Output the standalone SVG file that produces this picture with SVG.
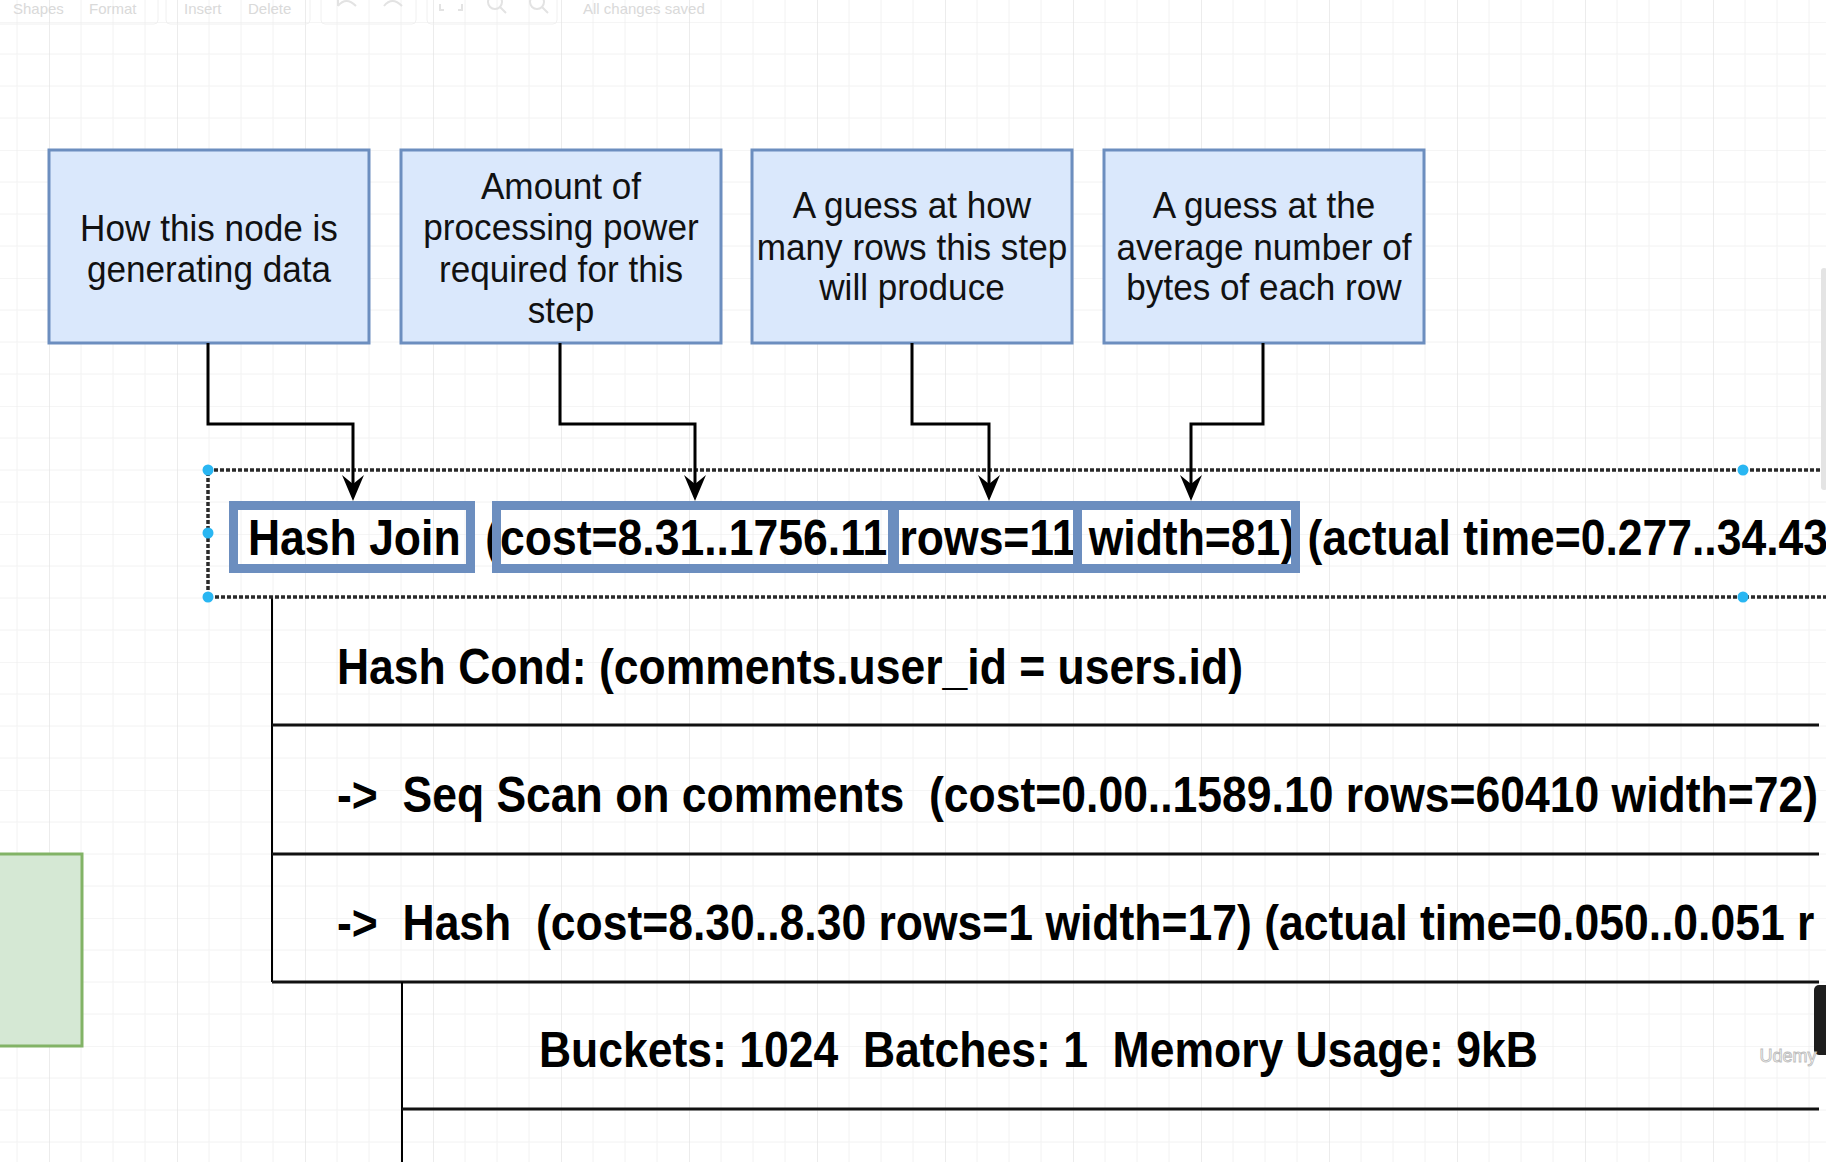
<svg xmlns="http://www.w3.org/2000/svg" width="1826" height="1162" viewBox="0 0 1826 1162">
<defs>
<style>
.tb{font-family:"Liberation Sans",Arial,sans-serif;font-size:15px;fill:#d6d6d6}
.note rect{fill:#dae8fc;stroke:#6c8ebf;stroke-width:3}
.note text{font-family:"Liberation Sans",Arial,sans-serif;font-size:37px;fill:#111;text-anchor:middle}
.plan{font-family:"Liberation Sans",Arial,sans-serif;font-size:50px;font-weight:bold;fill:#000}
.row{stroke:#111;stroke-width:3;fill:none}
.vline{stroke:#000;stroke-width:2;fill:none}
.hl{fill:none;stroke:#6c8ebf;stroke-width:9}
.sel{fill:none;stroke:#2a2a2a;stroke-width:3.5;stroke-dasharray:4 2}
.handle{fill:#29b6f2}
.conn{fill:none;stroke:#000;stroke-width:3}
</style>
<pattern id="grid" patternUnits="userSpaceOnUse" x="49" y="22" width="128" height="128">
<path d="M32,0V128M64,0V128M96,0V128M0,32H128M0,64H128M0,96H128" stroke="#f2f2f2" stroke-width="1" fill="none"/>
<path d="M0,0H128" stroke="#ebebeb" stroke-width="1" fill="none"/>
<path d="M0,0V128" stroke="#e0e0e0" stroke-width="1.2" fill="none"/>
</pattern>
<marker id="arrow" viewBox="-27 -12 28 24" refX="-9" refY="0" markerWidth="28" markerHeight="24" markerUnits="userSpaceOnUse" orient="auto">
<path d="M0,0 L-26,-11 L-17,0 L-26,11 Z" fill="#000"/>
</marker>
</defs>
<rect x="0" y="0" width="1826" height="1162" fill="#ffffff"/>
<rect x="0" y="0" width="1826" height="1162" fill="url(#grid)"/>

<g id="toolbar" opacity="0.9">
<rect x="-5" y="-10" width="163" height="34" rx="4" fill="none" stroke="#f0f0f0"/>
<rect x="166" y="-10" width="144" height="34" rx="4" fill="none" stroke="#f0f0f0"/>
<rect x="321" y="-10" width="95" height="34" rx="4" fill="none" stroke="#f0f0f0"/>
<rect x="427" y="-10" width="130" height="34" rx="4" fill="none" stroke="#f0f0f0"/>
<text class="tb" x="13" y="14">Shapes</text>
<text class="tb" x="89" y="14">Format</text>
<text class="tb" x="184" y="14">Insert</text>
<text class="tb" x="248" y="14">Delete</text>
<path d="M338,6 q8,-10 18,0 M338,6 l0,-6 M384,6 q8,-10 18,0" stroke="#e0e0e0" stroke-width="2" fill="none"/>
<path d="M440,4 v6 h4 M458,10 h4 v-6" stroke="#e0e0e0" stroke-width="2" fill="none"/>
<circle cx="495" cy="2" r="7" stroke="#e0e0e0" stroke-width="2" fill="none"/>
<path d="M500,7 l6,6" stroke="#e0e0e0" stroke-width="2"/>
<circle cx="537" cy="2" r="7" stroke="#e0e0e0" stroke-width="2" fill="none"/>
<path d="M542,7 l6,6" stroke="#e0e0e0" stroke-width="2"/>
<text class="tb" x="583" y="14">All changes saved</text>
</g>

<g id="side-node">
<rect x="-3" y="854" width="85" height="192" fill="#d5e8d4" stroke="#82b366" stroke-width="3"/>
</g>

<g id="node-method" class="note">
<rect x="49" y="150" width="320" height="193"/>
<g transform="translate(209,0) scale(0.95,1)">
<text x="0" y="241">How this node is</text>
<text x="0" y="282">generating data</text>
</g>
</g>
<g id="node-cost" class="note">
<rect x="401" y="150" width="320" height="193"/>
<g transform="translate(561,0) scale(0.95,1)">
<text x="0" y="199">Amount of</text>
<text x="0" y="240">processing power</text>
<text x="0" y="282">required for this</text>
<text x="0" y="323">step</text>
</g>
</g>
<g id="node-rows" class="note">
<rect x="752" y="150" width="320" height="193"/>
<g transform="translate(912,0) scale(0.95,1)">
<text x="0" y="218">A guess at how</text>
<text x="0" y="260">many rows this step</text>
<text x="0" y="300">will produce</text>
</g>
</g>
<g id="node-width" class="note">
<rect x="1104" y="150" width="320" height="193"/>
<g transform="translate(1264,0) scale(0.95,1)">
<text x="0" y="218">A guess at the</text>
<text x="0" y="260">average number of</text>
<text x="0" y="300">bytes of each row</text>
</g>
</g>

<g id="plan-table">
<path class="vline" d="M272,597V982"/>
<path class="row" d="M272,725H1819M272,854H1819M272,982H1819"/>
<path class="vline" d="M402,982V1162"/>
<path class="row" d="M402,1109H1819"/>
<text class="plan" transform="translate(337,684) scale(0.89,1)" x="0" y="0">Hash Cond: (comments.user_id = users.id)</text>
<text class="plan" xml:space="preserve" transform="translate(337,812) scale(0.89,1)" x="0" y="0">-&gt;  Seq Scan on comments  (cost=0.00..1589.10 rows=60410 width=72)</text>
<text class="plan" xml:space="preserve" transform="translate(337,940) scale(0.89,1)" x="0" y="0">-&gt;  Hash  (cost=8.30..8.30 rows=1 width=17) (actual time=0.050..0.051 r</text>
<text class="plan" xml:space="preserve" transform="translate(539,1067) scale(0.89,1)" x="0" y="0">Buckets: 1024  Batches: 1  Memory Usage: 9kB</text>
</g>

<g id="hash-join-row">
<text class="plan" xml:space="preserve" transform="translate(248,555) scale(0.89,1)" x="0" y="0">Hash Join  (cost=8.31..1756.11 rows=11 width=81) (actual time=0.277..34.43</text>
<rect id="hl-method" class="hl" x="233.5" y="505.5" width="237" height="63"/>
<rect id="hl-cost" class="hl" x="496.5" y="505.5" width="396" height="63"/>
<rect id="hl-rows" class="hl" x="894.5" y="505.5" width="183" height="63"/>
<rect id="hl-width" class="hl" x="1077.5" y="505.5" width="218" height="63"/>
<path class="sel" d="M1826,470H208V597H1826"/>
<circle class="handle" cx="208" cy="470" r="5.5"/>
<circle class="handle" cx="208" cy="533" r="5.5"/>
<circle class="handle" cx="208" cy="597" r="5.5"/>
<circle class="handle" cx="1743" cy="470" r="5.5"/>
<circle class="handle" cx="1743" cy="597" r="5.5"/>
</g>

<g id="connectors">
<path class="conn" d="M208,343V424H353V492" marker-end="url(#arrow)"/>
<path class="conn" d="M560,343V424H695V492" marker-end="url(#arrow)"/>
<path class="conn" d="M912,343V424H989V492" marker-end="url(#arrow)"/>
<path class="conn" d="M1263,343V424H1191V492" marker-end="url(#arrow)"/>
</g>

<g id="ui-right">
<rect x="1821" y="268" width="6" height="222" rx="3" fill="#e4e4e4"/>
<rect x="1814" y="985" width="18" height="70" rx="5" fill="#1e1e1e"/>
<text x="1788" y="1062" text-anchor="middle" font-family="'Liberation Sans',Arial,sans-serif" font-size="18" fill="#ffffff" stroke="#bdbdbd" stroke-width="0.9">Udemy</text>
</g>
</svg>
